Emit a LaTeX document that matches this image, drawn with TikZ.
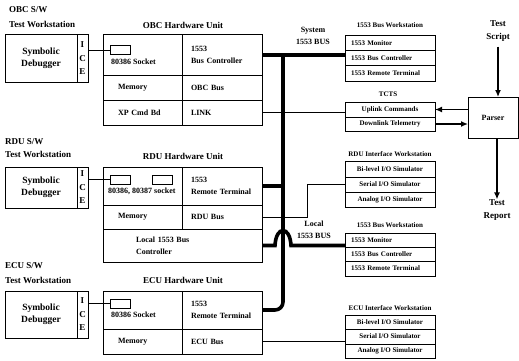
\documentclass[tikz,border=0pt]{standalone}
\usepackage{fontspec}
\setmainfont{Liberation Serif}
\usetikzlibrary{positioning,arrows.meta,calc}

\tikzset{
  lbl/.style={font=\bfseries\fontsize{9}{13}\selectfont, inner sep=0pt, align=center},
  wslbl/.style={font=\bfseries\fontsize{7}{9}\selectfont, inner sep=0pt},
  buslbl/.style={font=\bfseries\fontsize{8}{12}\selectfont, inner sep=0pt, align=center},
  hwtxt/.style={font=\bfseries\fontsize{8}{10}\selectfont, inner sep=0pt},
  cell/.style 2 args={draw, line width=1pt, inner sep=0pt, outer sep=0pt,
    anchor=north west, minimum width=#1, minimum height=#2,
    font=\bfseries\fontsize{8}{12}\selectfont, align=center},
  lcell/.style={text width=62, inner xsep=9, align=left},
  mcell/.style={text width=49, inner xsep=15, align=left},
  dbg/.style={font=\bfseries\fontsize{9.5}{12}\selectfont},
  ice/.style={font=\bfseries\fontsize{9}{13.5}\selectfont},
  wscell/.style={draw, line width=1pt, inner sep=0pt, outer sep=0pt,
    anchor=north west, minimum width=90, minimum height=#1,
    font=\bfseries\fontsize{7}{8}\selectfont},
  wsleft/.style={text width=78, inner xsep=6, align=left},
  socket/.style={draw, line width=1pt, inner sep=0pt, outer sep=0pt,
    anchor=north west, minimum width=20, minimum height=9},
  bus/.style={line width=3.6pt},
  wire/.style={line width=1pt},
  arr/.style={line width=1.3pt, -{Latex[length=7pt,width=6pt]}}
}

\begin{document}
\begin{tikzpicture}[x=1pt,y=-1pt]
\useasboundingbox (0,0) rectangle (519,361);

% OBC
\node[lbl, anchor=west] (obcsw) at (9,10) {OBC S/W};
\node[lbl, anchor=west] (obctw) at (9,24) {Test Workstation};
\node[cell={72}{47}, dbg] (obcdbg) at (5,35) {Symbolic\\Debugger};
\node[cell={11}{47}, ice] (obcice) at (77,35) {I\\C\\E};
\node[lbl] (obchwl) at (183,25) {OBC Hardware Unit};
\node[cell={79}{40}] (obcsock) at (103,35) {};
\node[socket] (obcs1) at (110,46) {};
\node[hwtxt, below right=4pt and 1pt of obcs1.south west] (obcsockl) {80386 Socket};
\node[cell={80}{40}, lcell] (obcbc) at (182,35) {1553\\Bus Controller};
\node[cell={79}{25}, mcell] (obcmem) at (103,75) {Memory};
\node[cell={80}{25}, lcell] (obcbus) at (182,75) {OBC Bus};
\node[cell={79}{25}, mcell] (obcxp) at (103,100) {XP Cmd Bd};
\node[cell={80}{25}, lcell] (obclink) at (182,100) {LINK};
\draw[wire] (obcice.east |- obcs1.west) -- (obcs1.west);

% system bus and 1553 bus workstation
\node[buslbl] (sysl) at (313,36) {System\\1553 BUS};
\coordinate (sysj) at ($(obcbc.east)+(21,0)$);
\node[wslbl] (bws1l) at (390,25) {1553 Bus Workstation};
\node[wscell=15, wsleft] (bws1a) at (345,36) {1553 Monitor};
\node[wscell=15, wsleft] (bws1b) at (345,51) {1553 Bus Controller};
\node[wscell=15, wsleft] (bws1c) at (345,66) {1553 Remote Terminal};
\draw[bus] (obcbc.east) -- (obcbc.east -| bws1b.west);

% TCTS and parser
\node[wslbl] (tctsl) at (388,94) {TCTS};
\node[wscell=15] (tcts1) at (345,102) {Uplink Commands};
\node[wscell=14] (tcts2) at (345,117) {Downlink Telemetry};
\draw[wire] (obclink.east) -- (obclink.east -| tcts1.west);
\node[lbl] (tscr) at (498,31) {Test\\Script};
\node[draw, line width=1pt, outer sep=0pt, anchor=north west, minimum width=50,
  minimum height=41, font=\bfseries\fontsize{8}{10}\selectfont] (parser) at (468,97) {Parser};
\draw[arr, shorten <=5pt] (tscr.south) -- (tscr.south |- parser.north);
\draw[arr] (parser.west |- tcts1.east) -- (tcts1.east);
\draw[arr] (tcts2.east) -- (tcts2.east -| parser.west);
\node[lbl] (trep) at (497,210) {Test\\Report};
\draw[arr] (trep.north |- parser.south) -- (trep.north);

% RDU
\node[lbl, anchor=west] (rdusw) at (5,142) {RDU S/W};
\node[lbl, anchor=west] (rdutw) at (5,154) {Test Workstation};
\node[cell={72}{41}, dbg] (rdudbg) at (5,167) {Symbolic\\Debugger};
\node[cell={11}{41}, ice] (rduice) at (77,167) {I\\C\\E};
\node[lbl] (rduhwl) at (183,156) {RDU Hardware Unit};
\node[cell={79}{38}] (rdusock) at (103,167) {};
\node[socket] (rdus1) at (110,175) {};
\node[socket] (rdus2) at (152,175) {};
\node[hwtxt, below right=4pt and -2pt of rdus1.south west] (rdusockl) {80386, 80387 socket};
\node[cell={80}{38}, lcell] (rdurt) at (182,167) {1553\\Remote Terminal};
\node[cell={79}{24}, mcell] (rdumem) at (103,205) {Memory};
\node[cell={80}{24}, lcell] (rdubus) at (182,205) {RDU Bus};
\node[cell={159}{33}, text width=93, inner xsep=33, align=left] (rduloc) at (103,229) {Local 1553 Bus\\Controller};
\draw[wire] (rduice.east |- rdus1.west) -- (rdus1.west);
\draw[bus] (rdurt.east) -- (rdurt.east -| sysj);

% RDU interface workstation
\node[wslbl] (rduiol) at (390,154) {RDU Interface Workstation};
\node[wscell=16] (rduio1) at (345,161) {Bi-level I/O Simulator};
\node[wscell=15] (rduio2) at (345,177) {Serial I/O Simulator};
\node[wscell=15] (rduio3) at (345,192) {Analog I/O Simulator};
\draw[wire] (rdubus.east) -- ++(45,0) |- (rduio2.west);

% local bus
\node[buslbl] (locl) at (314,230) {Local\\1553 BUS};
\node[wslbl] (bws2l) at (390,225) {1553 Bus Workstation};
\node[wscell=14, wsleft] (bws2a) at (345,233) {1553 Monitor};
\node[wscell=14, wsleft] (bws2b) at (345,247) {1553 Bus Controller};
\node[wscell=15, wsleft] (bws2c) at (345,261) {1553 Remote Terminal};
\draw[bus] (rduloc.east) -- ($(rduloc.east -| sysj)+(-8,0)$)
  .. controls +(1,-20) and +(-1,-20) .. ++(16,0) -- (rduloc.east -| bws2a.west);

% ECU
\node[lbl, anchor=west] (ecusw) at (5,266) {ECU S/W};
\node[lbl, anchor=west] (ecutw) at (5,280) {Test Workstation};
\node[cell={72}{47}, dbg] (ecudbg) at (5,291) {Symbolic\\Debugger};
\node[cell={11}{47}, ice] (ecuice) at (77,291) {I\\C\\E};
\node[lbl] (ecuhwl) at (183,280) {ECU Hardware Unit};
\node[cell={79}{38}] (ecusock) at (103,291) {};
\node[socket] (ecus1) at (110,299) {};
\node[hwtxt, below right=4pt and 1pt of ecus1.south west] (ecusockl) {80386 Socket};
\node[cell={80}{38}, lcell] (ecurt) at (182,291) {1553\\Remote Terminal};
\node[cell={79}{25}, mcell] (ecumem) at (103,329) {Memory};
\node[cell={80}{25}, lcell] (ecubus) at (182,329) {ECU Bus};
\draw[wire] (ecuice.east |- ecus1.west) -- (ecus1.west);
\draw[bus, rounded corners=8pt] (sysj) -- (sysj |- ecurt.east) -- (ecurt.east);

% ECU interface workstation
\node[wslbl] (ecuiol) at (390,308) {ECU Interface Workstation};
\node[wscell=14] (ecuio1) at (345,315) {Bi-level I/O Simulator};
\node[wscell=15] (ecuio2) at (345,329) {Serial I/O Simulator};
\node[wscell=14] (ecuio3) at (345,344) {Analog I/O Simulator};
\draw[wire] (ecubus.east) -- (ecubus.east -| ecuio2.west);
\end{tikzpicture}
\end{document}
